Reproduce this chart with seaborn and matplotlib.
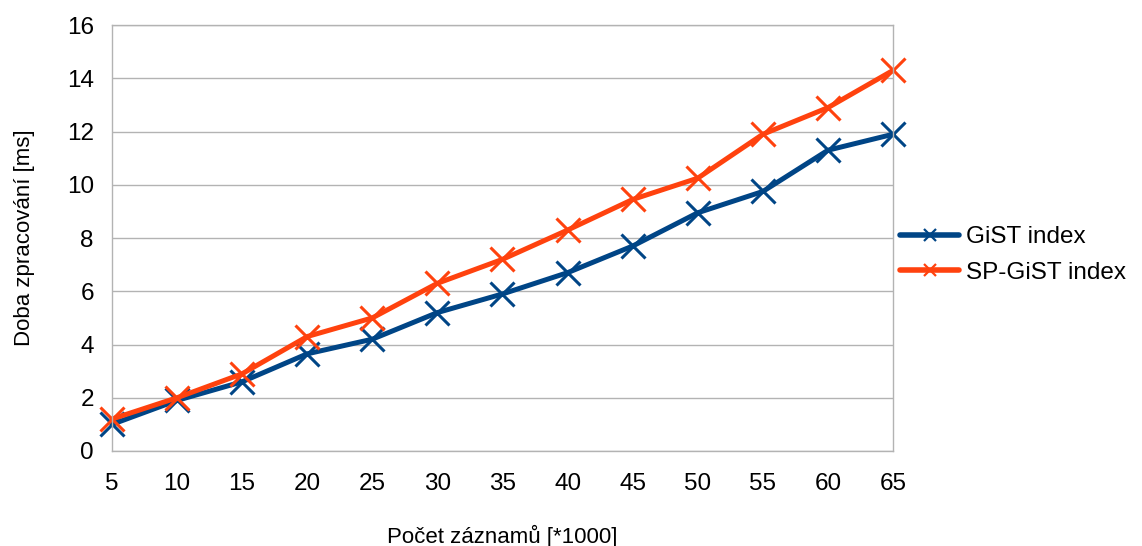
import pandas as pd
import seaborn as sns
import matplotlib.pyplot as plt

# data
zaznamy = [5, 10, 15, 20, 25, 30, 35, 40, 45, 50, 55, 60, 65]
gist = [1.0, 1.9, 2.6, 3.65, 4.2, 5.2, 5.9, 6.7, 7.7, 8.95, 9.75, 11.3, 11.9]
spgist = [1.2, 2.0, 2.9, 4.3, 5.0, 6.3, 7.2, 8.3, 9.45, 10.25, 11.9, 12.9, 14.3]
serie = ['GiST index', 'SP-GiST index']
barvy = ['#004586', '#ff420e']

df = pd.DataFrame({
    'x': zaznamy * 2,
    'y': gist + spgist,
    'serie': [serie[0]] * len(zaznamy) + [serie[1]] * len(zaznamy),
})

sns.set_theme(style="whitegrid")
plt.rcParams['font.family'] = ['Liberation Sans', 'DejaVu Sans']
plt.rcParams['text.color'] = 'black'
plt.rcParams['axes.labelcolor'] = 'black'

fig = plt.figure(figsize=(11.42, 5.46), dpi=100)
ax = fig.add_axes([0.098, 0.174, 0.684, 0.780])

sns.lineplot(data=df, x='x', y='y', hue='serie', style='serie',
             markers=['X', 'X'], dashes=False, palette=barvy, ax=ax,
             linewidth=3.6, legend=False)
# tenke krizky misto plnych X, nechat presahovat osy
for line, c in zip(ax.get_lines(), barvy):
    line.set_marker('x')
    line.set_markersize(17)
    line.set_markeredgewidth(2.2)
    line.set_markeredgecolor(c)
    line.set_clip_on(False)

ax.set_xlim(5, 65)
ax.set_ylim(0, 16)
ax.set_xticks(zaznamy)
ax.set_yticks(range(0, 17, 2))
ax.grid(axis='y', color='#b3b3b3', linewidth=1)
ax.grid(axis='x', visible=False)
for s in ax.spines.values():
    s.set_color('#b3b3b3')
    s.set_linewidth(1)
ax.tick_params(axis='both', labelsize=17.5, colors='black', length=8,
               width=1, color='#b3b3b3', direction='out', pad=5)
ax.tick_params(axis='x', pad=8)

ax.set_xlabel('Počet záznamů [*1000]', fontsize=16, labelpad=21, color='black')
ax.set_ylabel('Doba zpracování [ms]', fontsize=16, labelpad=23, color='black')

handles = [plt.Line2D([], [], color=c, linewidth=4, marker='x',
                      markersize=9, markeredgewidth=1.6) for c in barvy]
ax.legend(handles, serie, loc='center left', bbox_to_anchor=(0.997, 0.46),
          frameon=False, fontsize=17.5, handlelength=2.4, handletextpad=0.3,
          labelspacing=0.55, borderaxespad=0.0)

plt.savefig('out.png', dpi=100)
